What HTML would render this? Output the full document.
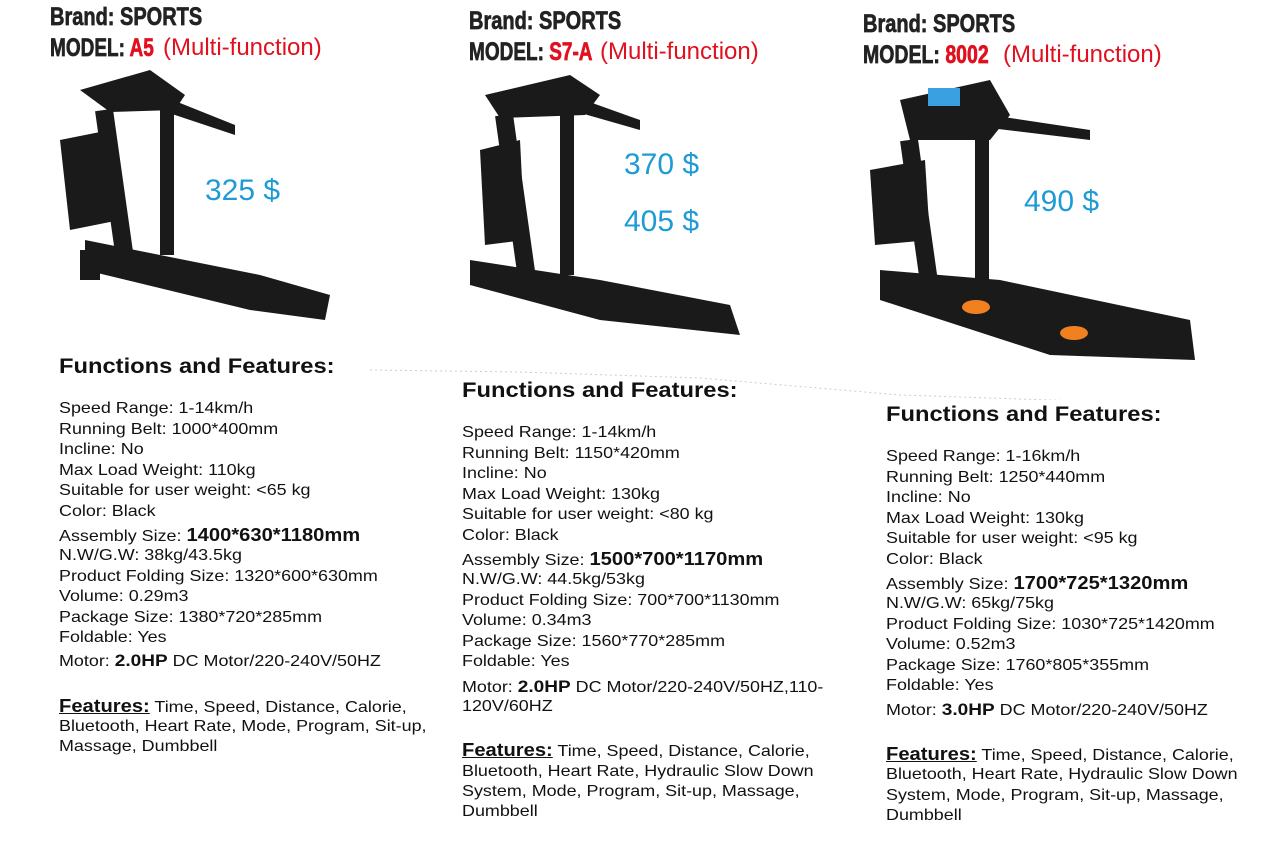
<!DOCTYPE html>
<html><head><meta charset="utf-8"><style>
body{margin:0;width:1280px;height:846px;background:#fff;position:relative;overflow:hidden;font-family:"Liberation Sans",Arial,sans-serif;color:#111}
.a{position:absolute;white-space:nowrap}
.hd{font-weight:bold;font-size:25px;color:#222;line-height:28px;-webkit-text-stroke:0.7px #222}
.cd{display:inline-block;transform:scaleX(0.8);transform-origin:left}
.r{color:#e0101e;-webkit-text-stroke:0.7px #e0101e}
.m{position:absolute;font-weight:normal;color:#e0101e;font-size:24px;line-height:28px;white-space:nowrap}
.pr{font-size:30px;color:#1e9bd7;line-height:32px}
.ff{font-weight:bold;font-size:21px;line-height:24px;transform:scaleX(1.13);transform-origin:left}
.t{font-size:16px;line-height:20px;transform:scaleX(1.12);transform-origin:left}
.t b.big{font-size:18px}
.t b{font-size:17px}
.fe{font-weight:bold;font-size:18px;text-decoration:underline}
</style></head><body>

<!-- headers -->
<div class="a hd" style="left:50px;top:3px"><span class="cd">Brand: SPORTS</span></div>
<div class="a hd" style="left:50px;top:34px"><span class="cd" style="transform:scaleX(0.76)">MODEL: <span class="r">A5</span></span></div>
<div class="m" style="left:163px;top:34px">(Multi-function)</div>
<div class="a hd" style="left:469px;top:7px"><span class="cd">Brand: SPORTS</span></div>
<div class="a hd" style="left:469px;top:38px"><span class="cd" style="transform:scaleX(0.76)">MODEL: <span class="r">S7-A</span></span></div>
<div class="m" style="left:600px;top:38px">(Multi-function)</div>
<div class="a hd" style="left:863px;top:10px"><span class="cd">Brand: SPORTS</span></div>
<div class="a hd" style="left:863px;top:41px"><span class="cd" style="transform:scaleX(0.78)">MODEL: <span class="r">8002</span></span></div>
<div class="m" style="left:1003px;top:41px">(Multi-function)</div>

<!-- treadmills -->
<svg class="a" style="left:0;top:0" width="1280" height="400">
 <g fill="#1a1a1a">
  <!-- 1 -->
  <polygon points="80,90 150,70 185,95 175,110 110,112"/>
  <rect x="95" y="110" width="18" height="150" transform="rotate(-8 104 110)"/>
  <rect x="160" y="105" width="14" height="150"/>
  <polygon points="60,140 110,130 120,220 70,230"/>
  <polygon points="85,240 260,275 330,295 325,320 250,310 85,270"/>
  <rect x="80" y="250" width="20" height="30"/>
  <polygon points="160,95 235,125 235,135 160,110"/>
  <!-- 2 -->
  <polygon points="485,95 570,75 600,95 585,115 500,118"/>
  <rect x="495" y="115" width="18" height="160" transform="rotate(-8 504 115)"/>
  <rect x="560" y="105" width="14" height="170"/>
  <polygon points="480,150 520,140 525,240 485,245"/>
  <polygon points="470,260 600,280 730,305 740,335 600,320 470,285"/>
  <polygon points="570,95 640,120 640,130 570,110"/>
  <!-- 3 -->
  <polygon points="900,100 990,80 1010,115 990,140 910,140"/>
  <rect x="900" y="140" width="18" height="160" transform="rotate(-8 909 140)"/>
  <rect x="975" y="130" width="14" height="180"/>
  <polygon points="870,170 925,160 930,240 875,245"/>
  <polygon points="880,270 1000,280 1190,320 1195,360 1050,355 880,300"/>
  <polygon points="990,115 1090,130 1090,140 990,128"/>
 </g>
 <rect x="928" y="88" width="32" height="18" fill="#3aa0e0"/>
 <ellipse cx="976" cy="307" rx="14" ry="7" fill="#f08020"/>
 <ellipse cx="1074" cy="333" rx="14" ry="7" fill="#f08020"/>
 <polyline points="370,370 520,372 700,378 900,395 1200,405" fill="none" stroke="#ccc" stroke-dasharray="2 3"/>
</svg>

<div class="a pr" style="left:205px;top:175px">325 $</div>
<div class="a pr" style="left:624px;top:149px">370 $</div>
<div class="a pr" style="left:624px;top:206px">405 $</div>
<div class="a pr" style="left:1024px;top:186px">490 $</div>

<!-- col1 -->
<div class="a ff" style="left:59px;top:355px">Functions and Features:</div>
<div class="a t" style="left:59px;top:399px">Speed Range: 1-14km/h</div>
<div class="a t" style="left:59px;top:420px">Running Belt: 1000*400mm</div>
<div class="a t" style="left:59px;top:440px">Incline: No</div>
<div class="a t" style="left:59px;top:461px">Max Load Weight: 110kg</div>
<div class="a t" style="left:59px;top:481px">Suitable for user weight: &lt;65 kg</div>
<div class="a t" style="left:59px;top:502px">Color: Black</div>
<div class="a t" style="left:59px;top:525px">Assembly Size: <b class="big">1400*630*1180mm</b></div>
<div class="a t" style="left:59px;top:546px">N.W/G.W: 38kg/43.5kg</div>
<div class="a t" style="left:59px;top:567px">Product Folding Size: 1320*600*630mm</div>
<div class="a t" style="left:59px;top:587px">Volume: 0.29m3</div>
<div class="a t" style="left:59px;top:608px">Package Size: 1380*720*285mm</div>
<div class="a t" style="left:59px;top:628px">Foldable: Yes</div>
<div class="a t" style="left:59px;top:651px">Motor: <b>2.0HP</b> DC Motor/220-240V/50HZ</div>
<div class="a t" style="left:59px;top:696px"><span class="fe">Features:</span> Time, Speed, Distance, Calorie,</div>
<div class="a t" style="left:59px;top:717px">Bluetooth, Heart Rate, Mode, Program, Sit-up,</div>
<div class="a t" style="left:59px;top:737px">Massage, Dumbbell</div>

<!-- col2 -->
<div class="a ff" style="left:462px;top:379px">Functions and Features:</div>
<div class="a t" style="left:462px;top:423px">Speed Range: 1-14km/h</div>
<div class="a t" style="left:462px;top:444px">Running Belt: 1150*420mm</div>
<div class="a t" style="left:462px;top:464px">Incline: No</div>
<div class="a t" style="left:462px;top:485px">Max Load Weight: 130kg</div>
<div class="a t" style="left:462px;top:505px">Suitable for user weight: &lt;80 kg</div>
<div class="a t" style="left:462px;top:526px">Color: Black</div>
<div class="a t" style="left:462px;top:549px">Assembly Size: <b class="big">1500*700*1170mm</b></div>
<div class="a t" style="left:462px;top:570px">N.W/G.W: 44.5kg/53kg</div>
<div class="a t" style="left:462px;top:591px">Product Folding Size: 700*700*1130mm</div>
<div class="a t" style="left:462px;top:611px">Volume: 0.34m3</div>
<div class="a t" style="left:462px;top:632px">Package Size: 1560*770*285mm</div>
<div class="a t" style="left:462px;top:652px">Foldable: Yes</div>
<div class="a t" style="left:462px;top:677px">Motor: <b>2.0HP</b> DC Motor/220-240V/50HZ,110-</div>
<div class="a t" style="left:462px;top:697px">120V/60HZ</div>
<div class="a t" style="left:462px;top:740px"><span class="fe">Features:</span> Time, Speed, Distance, Calorie,</div>
<div class="a t" style="left:462px;top:762px">Bluetooth, Heart Rate, Hydraulic Slow Down</div>
<div class="a t" style="left:462px;top:782px">System, Mode, Program, Sit-up, Massage,</div>
<div class="a t" style="left:462px;top:802px">Dumbbell</div>

<!-- col3 -->
<div class="a ff" style="left:886px;top:403px">Functions and Features:</div>
<div class="a t" style="left:886px;top:447px">Speed Range: 1-16km/h</div>
<div class="a t" style="left:886px;top:468px">Running Belt: 1250*440mm</div>
<div class="a t" style="left:886px;top:488px">Incline: No</div>
<div class="a t" style="left:886px;top:509px">Max Load Weight: 130kg</div>
<div class="a t" style="left:886px;top:529px">Suitable for user weight: &lt;95 kg</div>
<div class="a t" style="left:886px;top:550px">Color: Black</div>
<div class="a t" style="left:886px;top:573px">Assembly Size: <b class="big">1700*725*1320mm</b></div>
<div class="a t" style="left:886px;top:594px">N.W/G.W: 65kg/75kg</div>
<div class="a t" style="left:886px;top:615px">Product Folding Size: 1030*725*1420mm</div>
<div class="a t" style="left:886px;top:635px">Volume: 0.52m3</div>
<div class="a t" style="left:886px;top:656px">Package Size: 1760*805*355mm</div>
<div class="a t" style="left:886px;top:676px">Foldable: Yes</div>
<div class="a t" style="left:886px;top:700px">Motor: <b>3.0HP</b> DC Motor/220-240V/50HZ</div>
<div class="a t" style="left:886px;top:744px"><span class="fe">Features:</span> Time, Speed, Distance, Calorie,</div>
<div class="a t" style="left:886px;top:765px">Bluetooth, Heart Rate, Hydraulic Slow Down</div>
<div class="a t" style="left:886px;top:786px">System, Mode, Program, Sit-up, Massage,</div>
<div class="a t" style="left:886px;top:806px">Dumbbell</div>
</body></html>
